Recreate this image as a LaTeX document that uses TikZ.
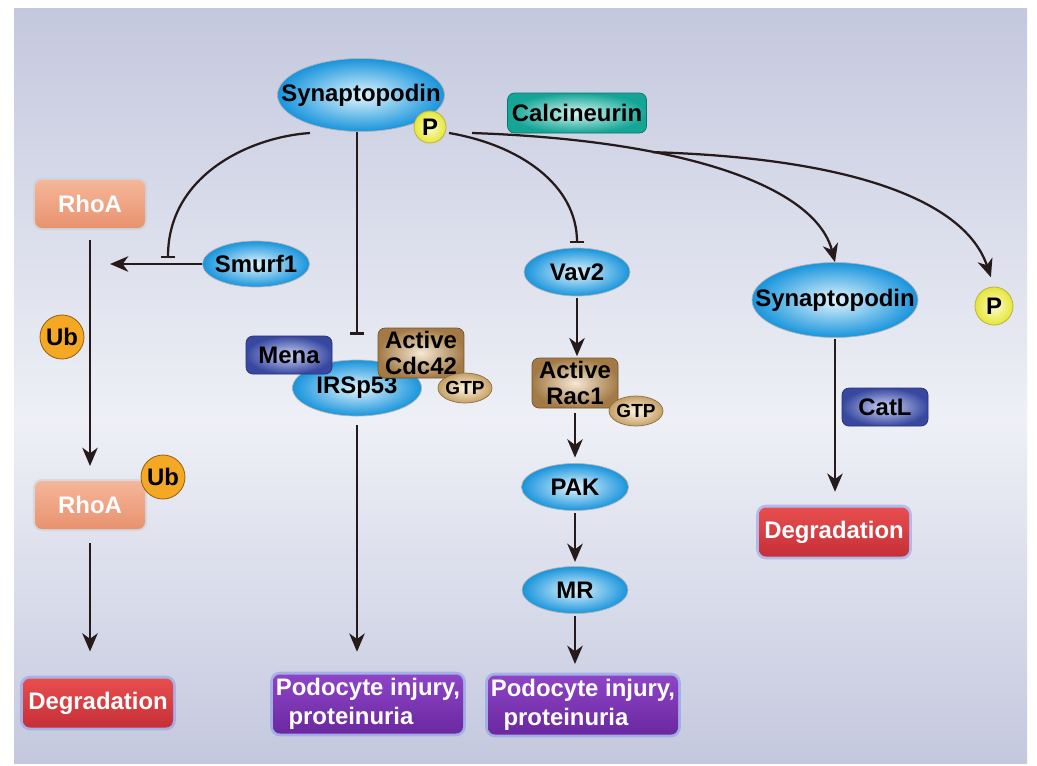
\documentclass[tikz,border=0pt]{standalone}
\usepackage{fontspec}
\setmainfont{Liberation Sans}
\usepackage{xcolor}
\usetikzlibrary{shapes.geometric,arrows.meta}

\definecolor{bgedge}{HTML}{C4C8DE}
\definecolor{bgmid}{HTML}{EEF0F6}
\definecolor{linkC}{HTML}{261A1A}
\definecolor{glowC}{HTML}{8A9AE8}
\definecolor{protout}{HTML}{1894DC}
\definecolor{protin}{HTML}{E2F5FD}
\definecolor{pout}{HTML}{E6E634}
\definecolor{pin}{HTML}{FCFCD2}
\definecolor{ubC}{HTML}{F5A823}
\definecolor{calcout}{HTML}{14A596}
\definecolor{calcin}{HTML}{D4F5F1}
\definecolor{kinout}{HTML}{3848A0}
\definecolor{kinin}{HTML}{CBD3F5}
\definecolor{gtpaseout}{HTML}{A37A45}
\definecolor{gtpasein}{HTML}{F5E8D4}
\definecolor{gtpout}{HTML}{C6A066}
\definecolor{gtpin}{HTML}{FFF5DF}
\definecolor{degtop}{HTML}{E84E4E}
\definecolor{degbot}{HTML}{C52F37}
\definecolor{podtop}{HTML}{8E44C6}
\definecolor{podbot}{HTML}{6A28A0}
\definecolor{rhotop}{HTML}{F5B699}
\definecolor{rhobot}{HTML}{E8926F}

\newcommand{\lbl}{\fontsize{17}{18}\selectfont\bfseries}
\newcommand{\zw}[1]{\makebox[0pt]{#1}}

\tikzset{
  link/.style={draw=linkC, line width=1.6pt},
  act/.style={link, -{Stealth[length=13pt,width=11pt,inset=4pt]}},
  inhib/.style={link, -{Bar[width=10pt]}},
  prot/.style 2 args={ellipse, draw=gray!60, line width=.5pt, inner sep=0pt,
    minimum width=#1*0.025cm, minimum height=#2*0.025cm,
    inner color=protin, outer color=protout, font=\lbl},
  phos/.style={circle, draw=olive!60, line width=.6pt, inner sep=0pt,
    minimum size=#1*0.025cm, inner color=pin, outer color=pout, font=\lbl},
  ub/.style={circle, draw=ubC!60!black, line width=.6pt, inner sep=0pt,
    minimum size=44*0.025cm, fill=ubC, font=\lbl},
  box/.style 2 args={rectangle, rounded corners=5pt, inner sep=0pt, align=center,
    minimum width=#1*0.025cm, minimum height=#2*0.025cm, font=\lbl},
  calc/.style={box={139}{40}, draw=calcout!70!black, line width=.5pt,
    inner color=calcin, outer color=calcout},
  kin/.style={box={86}{38}, draw=kinout!70!black, line width=.5pt,
    inner color=kinin, outer color=kinout},
  gtpase/.style={box={86}{50}, draw=gtpaseout!70!black, line width=.5pt,
    inner color=gtpasein, outer color=gtpaseout},
  gtp/.style={ellipse, draw=gtpout!70!black, line width=.5pt, inner sep=0pt,
    minimum width=54*0.025cm, minimum height=30*0.025cm,
    inner color=gtpin, outer color=gtpout, font=\fontsize{13.5}{14}\selectfont\bfseries},
  rho/.style={box={110}{48}, text=white, top color=rhotop, bottom color=rhobot,
    preaction={draw=gray!40, line width=3pt, opacity=.5}},
  deg/.style={box={150}{49}, text=white, top color=degtop, bottom color=degbot,
    preaction={draw=glowC, line width=4pt, opacity=.55}},
  pod/.style={box={190}{59}, text=white, align=left, top color=podtop, bottom color=podbot,
    font=\fontsize{17}{20.5}\selectfont\bfseries,
    preaction={draw=glowC, line width=4pt, opacity=.6}}
}

\begin{document}
\begin{tikzpicture}[x=0.025cm, y=-0.025cm]
	\useasboundingbox (0,0) rectangle (1037,765);
	% panel
	\fill[white] (0,0) rectangle (1037,765);
	\shade[top color=bgedge, bottom color=bgmid] (14,8) rectangle (1027,421);
	\shade[top color=bgmid, bottom color=bgedge] (14,420) rectangle (1027,763);

	% top
	\node[prot={167}{73}] (syn) at (361,95) {\zw{Synaptopodin}};
	\node[phos=32] (pA) at (430,127) {P};
	\node[calc] (calc) at (577,113) {Calcineurin};

	% RhoA column
	\node[rho] (rhoA) at (90,204) {RhoA};
	\node[prot={107}{46}] (smurf) at (256,264) {\zw{Smurf1}};
	\node[ub] (ub1) at (62,337) {Ub};
	\node[rho] (rhoB) at (90,505) {RhoA};
	\node[ub] (ub2) at (163,477) {Ub};
	\node[deg] (degA) at (98,703) {Degradation};

	% IRSp53 complex
	\node[prot={129}{56}] (irsp) at (357,388) {\zw{IRSp53}};
	\node[kin] (mena) at (289,355) {Mena};
	\node[gtpase] (cdc) at (421,353) {Active\\Cdc42};
	\node[gtp] (gtpA) at (465,388) {\zw{GTP}};
	\node[pod] (podA) at (368,704) {Podocyte injury,\\\hspace{9pt}proteinuria};

	% Vav2 column
	\node[prot={106}{48}] (vav) at (577,272) {\zw{Vav2}};
	\node[gtpase] (rac) at (575,383) {Active\\Rac1};
	\node[gtp] (gtpB) at (636,411) {\zw{GTP}};
	\node[prot={107}{47}] (pak) at (575,487) {\zw{PAK}};
	\node[prot={106}{47}] (mr) at (575,590) {\zw{MR}};
	\node[pod] (podB) at (583,705) {Podocyte injury,\\\hspace{9pt}proteinuria};

	% degraded synaptopodin
	\node[prot={166}{75}] (syn2) at (835,300) {\zw{Synaptopodin}};
	\node[phos=38] (pB) at (994,306) {P};
	\node[kin] (catl) at (885,407) {CatL};
	\node[deg] (degB) at (834,532) {Degradation};

	% links
	\coordinate (hit) at (110,264);
	\coordinate (block) at (168,258);
	\draw[act, shorten <=8pt, shorten >=10.5pt] (rhoA.south) -- (rhoB.north);
	\draw[act] (smurf.west) -- (hit);
	\draw[inhib] ([shift={(-51,38)}]syn.center) .. controls (250,137) and (168,175) .. (block);
	\draw[act, shorten <=10pt, shorten >=19pt] (rhoB.south) -- (rhoB.south |- degA.north);

	\draw[inhib] (irsp |- syn.south) -- ([shift={(0,-25)}]irsp.north);
	\draw[act, shorten <=6pt, shorten >=16pt] (irsp.south) -- (irsp.south |- podA.north);

	\draw[inhib, shorten >=3pt] ([shift={(19,6)}]pA.center) .. controls (520,145) and (577,185) .. (vav.north);
	\draw[act, shorten <=1.5pt, shorten >=1pt] (vav.south) -- (vav.south |- rac.north);
	\draw[act, shorten <=3pt, shorten >=4pt] (rac.south) -- (rac.south |- pak.north);
	\draw[act, shorten <=1.5pt, shorten >=3pt] (pak.south) -- (pak.south |- mr.north);
	\draw[act, shorten <=1.5pt, shorten >=8pt] (mr.south) -- (mr.south |- podB.north);

	\draw[act] ([shift={(42,6)}]pA.center) .. controls (680,140) and (815,185) .. (syn2.north)
		coordinate[pos=.33] (fork);
	\draw[act, shorten >=7pt] (fork) .. controls (850,158) and (965,200) .. (pB.north);
	\draw[act, shorten <=1pt, shorten >=11pt] (syn2.south) -- (syn2.south |- degB.north);
\end{tikzpicture}
\end{document}
